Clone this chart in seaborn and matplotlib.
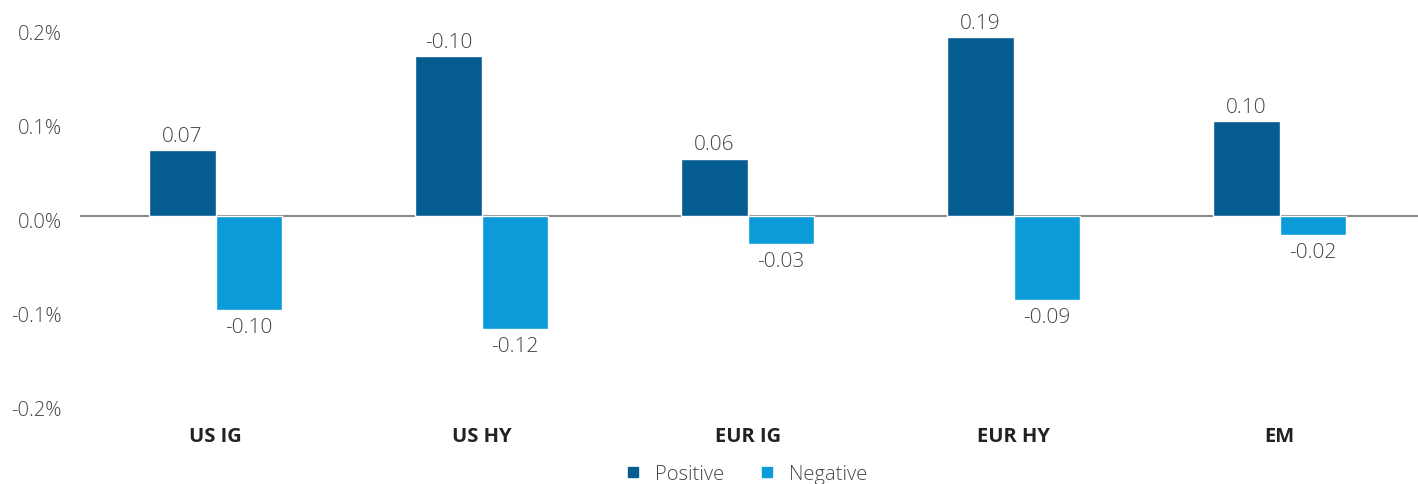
import matplotlib
matplotlib.use("Agg")
import matplotlib.pyplot as plt
import matplotlib.transforms as mtransforms
import pandas as pd
import seaborn as sns

# Datos
categories = ["US IG", "US HY", "EUR IG", "EUR HY", "EM"]
positive = [0.070, 0.170, 0.061, 0.190, 0.101]
negative = [-0.100, -0.120, -0.030, -0.089, -0.020]
positive_labels = ["0.07", "-0.10", "0.06", "0.19", "0.10"]
negative_labels = ["-0.10", "-0.12", "-0.03", "-0.09", "-0.02"]
y_ticks = [-0.2, -0.1, 0.0, 0.1, 0.2]

df = pd.DataFrame({
    "category": categories * 2,
    "value": positive + negative,
    "series": ["Positive"] * len(categories) + ["Negative"] * len(categories),
})

sns.set_style("white")
plt.rcParams["font.family"] = ["Open Sans", "DejaVu Sans"]

colors = {"Positive": "#045C91", "Negative": "#0A9BD8"}
text_color = "#444444"

fig = plt.figure(figsize=(14.18, 4.85), dpi=100)
ax = fig.add_axes([80 / 1418, 1 - 405 / 485, 1338 / 1418, 376 / 485])

sns.barplot(
    data=df, x="category", y="value", hue="series", palette=colors,
    width=0.5, saturation=1, ax=ax, legend=False,
)

ax.set_xlim(-0.51, 4.52)
ax.set_ylim(-0.2, 0.2)
ax.axhline(0, color="#8a8a8a", lw=1.5, zorder=0)

# Etiquetas de valor
ax.bar_label(ax.containers[0], labels=positive_labels, padding=3,
             fontsize=15, color=text_color, fontweight="light")
ax.bar_label(ax.containers[1], labels=negative_labels, padding=5,
             fontsize=15, color=text_color, fontweight="light")

# Ejes
ax.set_yticks(y_ticks)
ax.set_yticklabels([f"{t:.1f}%" for t in y_ticks], fontsize=14.5,
                   color=text_color, fontweight="light")
ax.tick_params(axis="y", length=0, pad=13)
offset = mtransforms.ScaledTranslation(0, -4 / 100, fig.dpi_scale_trans)
for lab in ax.get_yticklabels():
    lab.set_transform(lab.get_transform() + offset)
    lab.set_horizontalalignment("right")

ax.set_xticks(range(len(categories)))
ax.set_xticklabels(categories, fontsize=14.5, fontweight="bold", color="#222222")
ax.tick_params(axis="x", length=0, pad=16)
ax.set_xlabel("")
ax.set_ylabel("")
for s in ax.spines.values():
    s.set_visible(False)

# Leyenda
handles = [plt.Line2D([], [], marker="s", ls="", color=colors[k], markersize=7)
           for k in ["Positive", "Negative"]]
fig.legend(handles, ["Positive", "Negative"], loc="center",
           bbox_to_anchor=(745 / 1418, 1 - 475 / 485), ncol=2, frameon=False,
           prop={"size": 14.5, "weight": "light"}, labelcolor=text_color,
           handletextpad=0.6, columnspacing=1.6, handlelength=1.0)

plt.savefig("out.png", dpi=100)
